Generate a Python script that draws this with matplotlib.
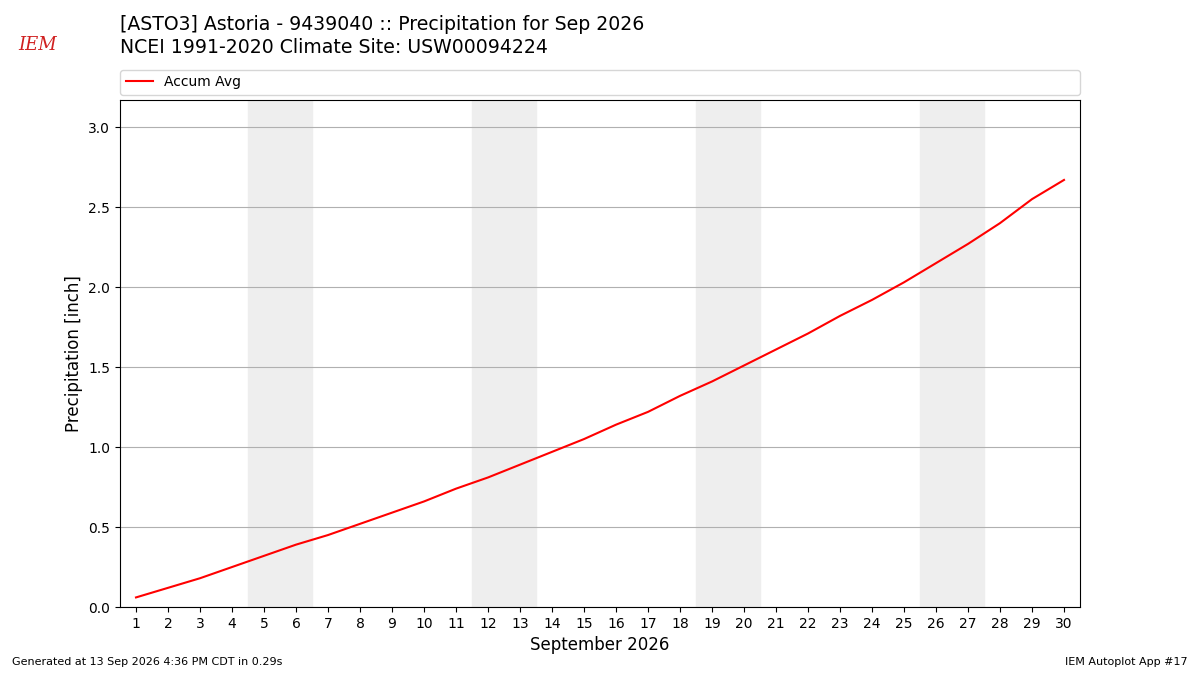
import numpy as np
import matplotlib
matplotlib.use("Agg")
import matplotlib.pyplot as plt

# Accumulated average precip (inch), Sep 1..30
days = np.arange(1, 31)
accum_avg = [0.06, 0.12, 0.18, 0.25, 0.32, 0.39, 0.45, 0.52, 0.59, 0.66,
             0.74, 0.81, 0.89, 0.97, 1.05, 1.14, 1.22, 1.32, 1.41, 1.51,
             1.61, 1.71, 1.82, 1.92, 2.03, 2.15, 2.27, 2.40, 2.55, 2.67]
weekend_days = [5, 12, 19, 26]  # saturdays, shade sat+sun

fig = plt.figure(figsize=(12, 6.75), dpi=100)
ax = fig.add_axes([0.1, 0.1007, 0.8, 0.7512])

for sat in weekend_days:
    ax.axvspan(sat - 0.5, sat + 1.5, color='#eeeeee', zorder=0)

ax.plot(days, accum_avg, color='r', lw=1.5, label='Accum Avg', zorder=3)

ax.set_xlim(0.5, 30.5)
ax.set_ylim(0, 3.17)
ax.set_xticks(days)
ax.set_yticks(np.arange(0, 3.01, 0.5))
ax.yaxis.grid(True, color='#b0b0b0', lw=0.8)
ax.set_axisbelow(True)
ax.set_xlabel('September 2026', fontsize=12)
ax.set_ylabel('Precipitation [inch]', fontsize=12)

ax.legend(loc='lower left', bbox_to_anchor=(0, 1.01, 1, 0.05), mode='expand',
          ncol=1, fontsize=10, borderaxespad=0, frameon=True)

fig.text(0.1, 0.963, '[ASTO3] Astoria - 9439040 :: Precipitation for Sep 2026',
         fontsize=13.6, va='center')
fig.text(0.1, 0.93, 'NCEI 1991-2020 Climate Site: USW00094224',
         fontsize=13.6, va='center')

# rough stand-in for the IEM logo
fig.text(0.031, 0.933, 'IEM', color='#d02020', fontsize=13, family='serif',
         style='italic', ha='center', va='center')

fig.text(0.01, 0.015, 'Generated at 13 Sep 2026 4:36 PM CDT in 0.29s', fontsize=8)
fig.text(0.99, 0.015, 'IEM Autoplot App #17', fontsize=8, ha='right')

plt.savefig('out.png', dpi=100)
plt.close()
